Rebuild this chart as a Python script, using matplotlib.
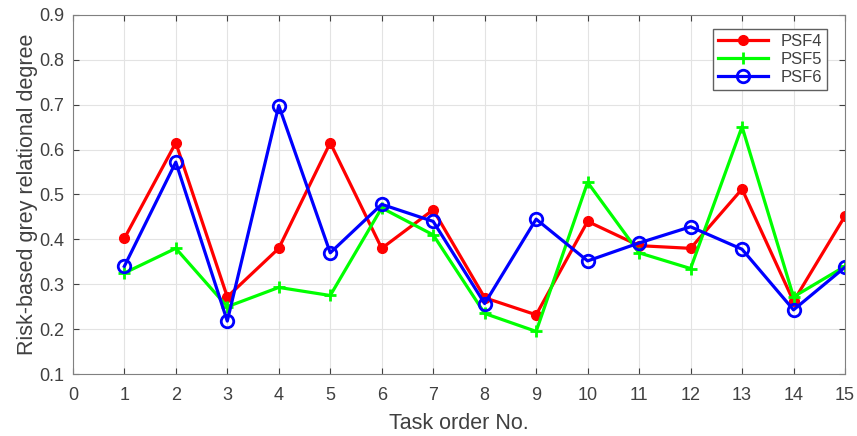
import matplotlib
matplotlib.use("Agg")
import matplotlib.pyplot as plt
import numpy as np

# task order numbers and the three PSF series
tasks = np.arange(1, 16)
psf4 = [0.402, 0.615, 0.272, 0.380, 0.615, 0.380, 0.466, 0.270, 0.232, 0.440, 0.386, 0.380, 0.512, 0.262, 0.452]
psf5 = [0.325, 0.380, 0.250, 0.293, 0.275, 0.470, 0.410, 0.235, 0.195, 0.527, 0.370, 0.335, 0.651, 0.272, 0.340]
psf6 = [0.340, 0.572, 0.218, 0.698, 0.370, 0.478, 0.440, 0.257, 0.445, 0.352, 0.392, 0.428, 0.378, 0.243, 0.338]

xticks = np.arange(0, 16)
yticks = np.arange(0.1, 0.91, 0.1)

plt.rcParams['font.family'] = ['Liberation Sans', 'DejaVu Sans']
txt = '#404040'

fig = plt.figure(figsize=(8.57, 4.36), dpi=100)
ax = fig.add_axes([0.085, 0.142, 0.901, 0.824])

ax.plot(tasks, psf4, color='#ff0000', lw=2.3, marker='o', ms=7, label='PSF4')
ax.plot(tasks, psf5, color='#00ff00', lw=2.3, marker='+', ms=8, mew=2, label='PSF5')
ax.plot(tasks, psf6, color='#0000ff', lw=2.3, marker='o', ms=9, mfc='none', mew=2, label='PSF6')

ax.set_xlim(0, 15)
ax.set_ylim(0.1, 0.9)
ax.set_xticks(xticks)
ax.set_yticks(yticks)
ax.set_yticklabels(['%.1f' % v for v in yticks])
ax.grid(True, color='#e3e3e3', lw=0.8)
ax.tick_params(direction='in', colors=txt, labelsize=13, top=True, right=True, length=4)
ax.tick_params(axis='x', pad=9)
ax.tick_params(axis='y', pad=6)
for s in ax.spines.values():
    s.set_color('#808080')

ax.set_xlabel('Task order No.', fontsize=15.5, color=txt, labelpad=7)
ax.set_ylabel('Risk-based grey relational degree', fontsize=15.5, color=txt, labelpad=1)

leg = ax.legend(loc='upper right', bbox_to_anchor=(0.988, 0.985), fontsize=12, fancybox=False,
                edgecolor='#606060', framealpha=1, handlelength=3.0, borderpad=0.3, labelspacing=0.2)
for t in leg.get_texts():
    t.set_color(txt)

fig.savefig('out.png', dpi=100)
